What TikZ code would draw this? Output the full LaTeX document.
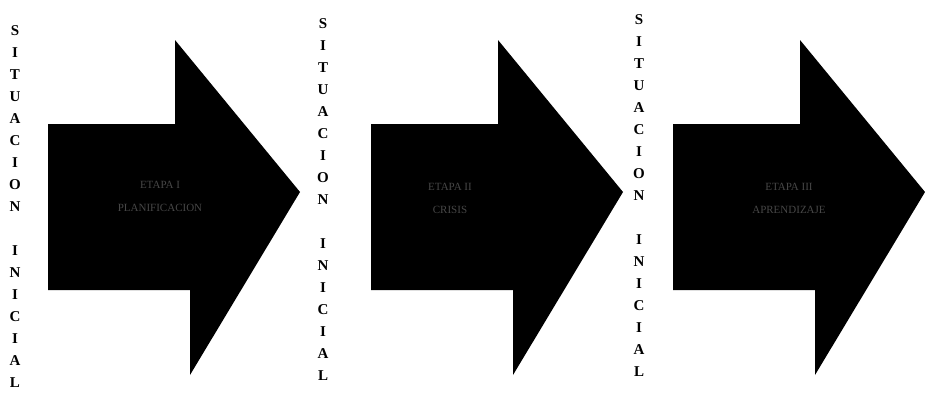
\documentclass[tikz,border=0pt]{standalone}
\usepackage{fontspec}
\setmainfont{Liberation Serif}
\begin{document}
\begin{tikzpicture}[x=1pt,y=-1pt,
  bigarrow/.style={fill=black,draw=none},
  vlabel/.style={inner sep=0pt,align=center,font=\fontsize{15}{22}\selectfont\bfseries},
  intext/.style={inner sep=0pt,align=center,text=black!72,font=\fontsize{11}{13}\selectfont}]
\useasboundingbox (0,0) rectangle (925,402);
% arrows (same shape, shifted)
\foreach \dx in {0,323,625}{
  \fill[bigarrow] (48+\dx,124) -- (175+\dx,124) -- (175+\dx,40) -- (300+\dx,192)
     -- (190+\dx,375) -- (190+\dx,290) -- (48+\dx,290) -- cycle;
}
% vertical labels
\node[vlabel] (col1) at (15,207) {S\\I\\T\\U\\A\\C\\I\\O\\N\\[22pt]I\\N\\I\\C\\I\\A\\L};
\node[vlabel] (col2) at (323,200) {S\\I\\T\\U\\A\\C\\I\\O\\N\\[22pt]I\\N\\I\\C\\I\\A\\L};
\node[vlabel] (col3) at (639,196) {S\\I\\T\\U\\A\\C\\I\\O\\N\\[22pt]I\\N\\I\\C\\I\\A\\L};
% faint inner texts
\node[intext] (t1) at (160,196) {ETAPA I\\[10pt]PLANIFICACION};
\node[intext] (t2) at (450,198) {ETAPA II\\[10pt]CRISIS};
\node[intext] (t3) at (789,198) {ETAPA III\\[10pt]APRENDIZAJE};
\end{tikzpicture}
\end{document}
